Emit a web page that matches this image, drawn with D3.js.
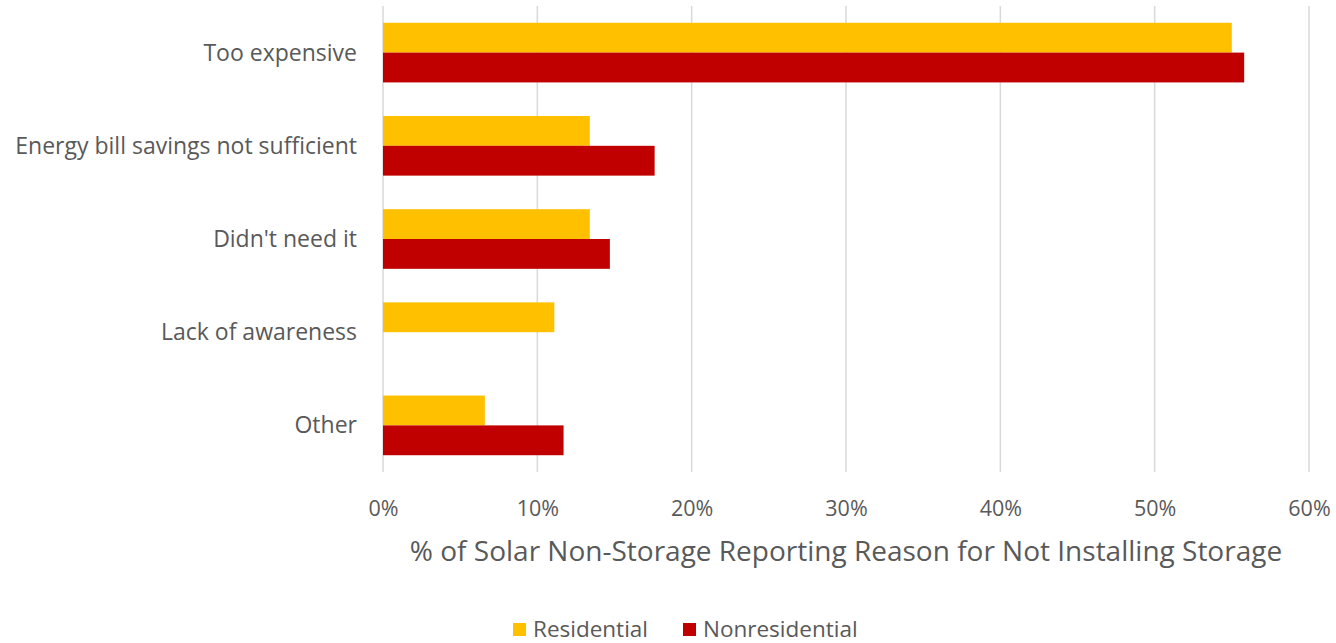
<!DOCTYPE html>
<html><head><meta charset="utf-8">
<script src="https://cdn.jsdelivr.net/npm/d3@7"></script>
<style>body{margin:0;background:#fff;}svg{display:block;font-family:"Open Sans",sans-serif;}</style>
</head><body>
<svg id="c" width="1336" height="643"></svg>
<script>
const categories = ["Too expensive","Energy bill savings not sufficient","Didn't need it","Lack of awareness","Other"];
const seriesNames = ["Residential","Nonresidential"];
const residential = [55.0, 13.4, 13.4, 11.1, 6.6];
const nonresidential = [55.8, 17.6, 14.7, 0, 11.7];
const xTicks = [0,10,20,30,40,50,60];
const colors = ["#FFC000","#C00000"];
const xTitle = "% of Solar Non-Storage Reporting Reason for Not Installing Storage";

(function(){
const FONT = "'Open Sans',sans-serif";
const svg = d3.select("#c");
const pL = 383, pR = 1309, pT = 6, pB = 472;
const x = d3.scaleLinear().domain([0,60]).range([pL,pR]);
const y = d3.scaleBand().domain(categories).range([pT,pB]).paddingInner(0.36).paddingOuter(0.18);
const y1 = d3.scaleBand().domain(seriesNames).range([0,y.bandwidth()]);

svg.append("g").selectAll("line").data(xTicks).join("line")
  .attr("x1",d=>x(d)).attr("x2",d=>x(d)).attr("y1",pT).attr("y2",pB)
  .attr("stroke","#d9d9d9").attr("stroke-width",1.5);

const data = categories.map((c,i)=>({c, vals:[residential[i], nonresidential[i]]}));
const g = svg.append("g");
data.forEach(d=>{
  d.vals.forEach((v,j)=>{
    if (v<=0) return;
    g.append("rect").attr("x",x(0)).attr("y",y(d.c)+y1(seriesNames[j]))
      .attr("width",x(v)-x(0)).attr("height",y1.bandwidth()).attr("fill",colors[j]);
  });
});

const xAxis = d3.axisBottom(x).tickValues(xTicks).tickFormat(d=>d+"%").tickSize(0).tickPadding(0);
const ax = svg.append("g").attr("transform",`translate(0,${pB})`).call(xAxis);
ax.select(".domain").remove();
ax.selectAll("text").attr("dy",null).attr("y",44).attr("font-size",21.5).attr("fill","#595959").attr("font-family",FONT);

const yAxis = d3.axisLeft(y).tickSize(0).tickPadding(0);
const ay = svg.append("g").attr("transform",`translate(357,0)`).call(yAxis);
ay.select(".domain").remove();
ay.selectAll("text").attr("dy","0.35em").attr("font-size",23).attr("fill","#595959").attr("font-family",FONT);

svg.append("text").attr("x",(pL+pR)/2).attr("y",561).attr("text-anchor","middle")
  .attr("font-size",28).attr("fill","#595959").text(xTitle);

const leg = svg.append("g");
const legX = [513, 683];
seriesNames.forEach((s,i)=>{
  leg.append("rect").attr("x",legX[i]).attr("y",623).attr("width",13).attr("height",13).attr("fill",colors[i]);
  leg.append("text").attr("x",legX[i]+20).attr("y",637).attr("font-size",22.5).attr("fill","#595959").text(s);
});
})();
</script>
</body></html>
